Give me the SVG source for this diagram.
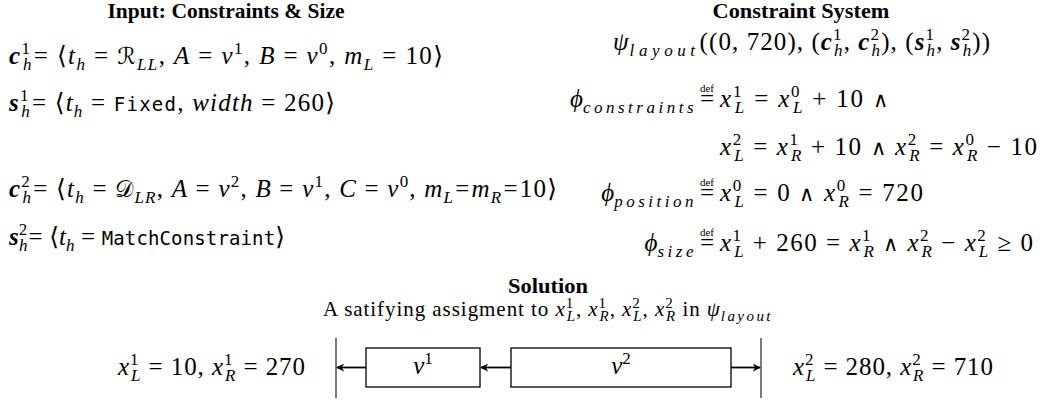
<svg xmlns="http://www.w3.org/2000/svg" width="1052" height="401" viewBox="0 0 1052 401">
<style>
text{font-family:"Liberation Serif","DejaVu Serif",serif;fill:#000}
.m{font-size:25px}
.i{font-style:italic}
.bi{font-style:italic;font-weight:bold}
.s{font-size:17px}
.sw{letter-spacing:3.5px}
.sw2{letter-spacing:1.5px}
.cal{font-family:"DejaVu Serif","DejaVu Sans",serif;font-size:23px}
.op{font-family:"DejaVu Sans",sans-serif;font-size:21px;font-weight:200}
.tt{font-family:"DejaVu Sans Mono","Liberation Mono",monospace;font-size:19px}
.h{font-weight:bold;font-size:21px;text-anchor:middle}
.d{font-size:11px;text-anchor:middle}
.eq{text-anchor:middle}
.n{font-size:21px}
.ns{font-size:15px}
.box{fill:#fff;stroke:#000;stroke-width:1.3}
.wall{stroke:#333;stroke-width:1.3}
.arr{stroke:#000;stroke-width:1.8;fill:none;marker-end:url(#ah)}
</style>
<defs>
<marker id="ah" viewBox="0 0 10 10" refX="9" refY="5" markerWidth="8" markerHeight="8" markerUnits="userSpaceOnUse" orient="auto">
<path d="M0,0 L10,5 L0,10 L3,5 Z" fill="#000"/>
</marker>
</defs>

<g id="headings">
<text class="h" x="226" y="18" textLength="237" lengthAdjust="spacingAndGlyphs">Input: Constraints &amp; Size</text>
<text class="h" x="801" y="18" textLength="177" lengthAdjust="spacingAndGlyphs">Constraint System</text>
<text class="h" x="548" y="293" textLength="80" lengthAdjust="spacingAndGlyphs">Solution</text>
</g>

<g id="input">
<text class="m" x="9" y="64" textLength="434" lengthAdjust="spacing"><tspan class="bi">c</tspan><tspan class="s" dy="-10">1</tspan><tspan class="s i" dx="-8.5" dy="16">h</tspan><tspan dy="-6" dx="1">= ⟨</tspan><tspan class="i">t</tspan><tspan class="s i" dy="6">h</tspan><tspan dy="-6"> = </tspan><tspan class="cal">ℛ</tspan><tspan class="s i" dy="6">LL</tspan><tspan dy="-6">, </tspan><tspan class="i">A</tspan> = <tspan class="i">v</tspan><tspan class="s" dy="-10">1</tspan><tspan dy="10">, </tspan><tspan class="i">B</tspan> = <tspan class="i">v</tspan><tspan class="s" dy="-10">0</tspan><tspan dy="10">, </tspan><tspan class="i">m</tspan><tspan class="s i" dy="6">L</tspan><tspan dy="-6"> = 10⟩</tspan></text>
<text class="m" x="9" y="111" textLength="326" lengthAdjust="spacing"><tspan class="bi">s</tspan><tspan class="s" dy="-10">1</tspan><tspan class="s i" dx="-8.5" dy="16">h</tspan><tspan dy="-6" dx="1">= ⟨</tspan><tspan class="i">t</tspan><tspan class="s i" dy="6">h</tspan><tspan dy="-6"> = </tspan><tspan class="tt">Fixed</tspan>, <tspan class="i">width</tspan> = 260⟩</text>
<text class="m" x="9" y="197" textLength="548" lengthAdjust="spacing"><tspan class="bi">c</tspan><tspan class="s" dy="-10">2</tspan><tspan class="s i" dx="-8.5" dy="16">h</tspan><tspan dy="-6" dx="1">= ⟨</tspan><tspan class="i">t</tspan><tspan class="s i" dy="6">h</tspan><tspan dy="-6"> = </tspan><tspan class="cal">𝒟</tspan><tspan class="s i" dy="6">LR</tspan><tspan dy="-6">, </tspan><tspan class="i">A</tspan> = <tspan class="i">v</tspan><tspan class="s" dy="-10">2</tspan><tspan dy="10">, </tspan><tspan class="i">B</tspan> = <tspan class="i">v</tspan><tspan class="s" dy="-10">1</tspan><tspan dy="10">, </tspan><tspan class="i">C</tspan> = <tspan class="i">v</tspan><tspan class="s" dy="-10">0</tspan><tspan dy="10">, </tspan><tspan class="i">m</tspan><tspan class="s i" dy="6">L</tspan><tspan dy="-6" dx="1">=</tspan><tspan class="i" dx="1">m</tspan><tspan class="s i" dy="6">R</tspan><tspan dy="-6" dx="1">=</tspan><tspan dx="1">10⟩</tspan></text>
<text class="m" x="9" y="245" textLength="276" lengthAdjust="spacing"><tspan class="bi">s</tspan><tspan class="s" dy="-10">2</tspan><tspan class="s i" dx="-8.5" dy="16">h</tspan><tspan dy="-6" dx="1">= ⟨</tspan><tspan class="i">t</tspan><tspan class="s i" dy="6">h</tspan><tspan dy="-6"> = </tspan><tspan class="tt">MatchConstraint</tspan>⟩</text>
</g>

<g id="system">
<text class="m" x="613" y="50" textLength="377" lengthAdjust="spacing"><tspan class="i">ψ</tspan><tspan class="s i sw" dy="6">layout</tspan><tspan dy="-6">((0, 720), (</tspan><tspan class="bi">c</tspan><tspan class="s" dy="-10">1</tspan><tspan class="s i" dx="-8.5" dy="16">h</tspan><tspan dy="-6">, </tspan><tspan class="bi">c</tspan><tspan class="s" dy="-10">2</tspan><tspan class="s i" dx="-8.5" dy="16">h</tspan><tspan dy="-6">), (</tspan><tspan class="bi">s</tspan><tspan class="s" dy="-10">1</tspan><tspan class="s i" dx="-8.5" dy="16">h</tspan><tspan dy="-6">, </tspan><tspan class="bi">s</tspan><tspan class="s" dy="-10">2</tspan><tspan class="s i" dx="-8.5" dy="16">h</tspan><tspan dy="-6">))</tspan></text>

<text class="m" x="697" y="107" text-anchor="end"><tspan class="i">ϕ</tspan><tspan class="s i sw" dy="6">constraints</tspan></text>
<text class="d" x="707" y="92">def</text>
<text class="m eq" x="707" y="107">=</text>
<text class="m" x="720" y="107" textLength="168" lengthAdjust="spacing"><tspan class="i">x</tspan><tspan class="s" dy="-10">1</tspan><tspan class="s i" dx="-8.5" dy="16">L</tspan><tspan dy="-6"> = </tspan><tspan class="i">x</tspan><tspan class="s" dy="-10">0</tspan><tspan class="s i" dx="-8.5" dy="16">L</tspan><tspan dy="-6"> + 10 </tspan><tspan class="op">∧</tspan></text>

<text class="m" x="720" y="155" textLength="317" lengthAdjust="spacing"><tspan class="i">x</tspan><tspan class="s" dy="-10">2</tspan><tspan class="s i" dx="-8.5" dy="16">L</tspan><tspan dy="-6"> = </tspan><tspan class="i">x</tspan><tspan class="s" dy="-10">1</tspan><tspan class="s i" dx="-8.5" dy="16">R</tspan><tspan dy="-6"> + 10 </tspan><tspan class="op">∧</tspan> <tspan class="i">x</tspan><tspan class="s" dy="-10">2</tspan><tspan class="s i" dx="-8.5" dy="16">R</tspan><tspan dy="-6"> = </tspan><tspan class="i">x</tspan><tspan class="s" dy="-10">0</tspan><tspan class="s i" dx="-8.5" dy="16">R</tspan><tspan dy="-6"> − 10</tspan></text>

<text class="m" x="697" y="201" text-anchor="end"><tspan class="i">ϕ</tspan><tspan class="s i sw" dy="6">position</tspan></text>
<text class="d" x="707" y="186">def</text>
<text class="m eq" x="707" y="201">=</text>
<text class="m" x="720" y="201" textLength="203" lengthAdjust="spacing"><tspan class="i">x</tspan><tspan class="s" dy="-10">0</tspan><tspan class="s i" dx="-8.5" dy="16">L</tspan><tspan dy="-6"> = 0 </tspan><tspan class="op">∧</tspan> <tspan class="i">x</tspan><tspan class="s" dy="-10">0</tspan><tspan class="s i" dx="-8.5" dy="16">R</tspan><tspan dy="-6"> = 720</tspan></text>

<text class="m" x="697" y="251" text-anchor="end"><tspan class="i">ϕ</tspan><tspan class="s i sw" dy="6">size</tspan></text>
<text class="d" x="707" y="236">def</text>
<text class="m eq" x="707" y="251">=</text>
<text class="m" x="720" y="251" textLength="313" lengthAdjust="spacing"><tspan class="i">x</tspan><tspan class="s" dy="-10">1</tspan><tspan class="s i" dx="-8.5" dy="16">L</tspan><tspan dy="-6"> + 260 = </tspan><tspan class="i">x</tspan><tspan class="s" dy="-10">1</tspan><tspan class="s i" dx="-8.5" dy="16">R</tspan><tspan dy="-6"> </tspan><tspan class="op">∧</tspan> <tspan class="i">x</tspan><tspan class="s" dy="-10">2</tspan><tspan class="s i" dx="-8.5" dy="16">R</tspan><tspan dy="-6"> − </tspan><tspan class="i">x</tspan><tspan class="s" dy="-10">2</tspan><tspan class="s i" dx="-8.5" dy="16">L</tspan><tspan dy="-6"> ≥ 0</tspan></text>
</g>

<g id="solution">
<text class="n" x="323" y="316" textLength="449" lengthAdjust="spacing">A satifying assigment to <tspan class="i">x</tspan><tspan class="ns" dy="-8">1</tspan><tspan class="ns i" dx="-7.5" dy="13">L</tspan><tspan dy="-5">, </tspan><tspan class="i">x</tspan><tspan class="ns" dy="-8">1</tspan><tspan class="ns i" dx="-7.5" dy="13">R</tspan><tspan dy="-5">, </tspan><tspan class="i">x</tspan><tspan class="ns" dy="-8">2</tspan><tspan class="ns i" dx="-7.5" dy="13">L</tspan><tspan dy="-5">, </tspan><tspan class="i">x</tspan><tspan class="ns" dy="-8">2</tspan><tspan class="ns i" dx="-7.5" dy="13">R</tspan><tspan dy="-5"> in </tspan><tspan class="i">ψ</tspan><tspan class="ns i sw2" dy="5">layout</tspan></text>
<text class="m" x="118" y="375" textLength="187" lengthAdjust="spacing"><tspan class="i">x</tspan><tspan class="s" dy="-10">1</tspan><tspan class="s i" dx="-8.5" dy="16">L</tspan><tspan dy="-6"> = 10, </tspan><tspan class="i">x</tspan><tspan class="s" dy="-10">1</tspan><tspan class="s i" dx="-8.5" dy="16">R</tspan><tspan dy="-6"> = 270</tspan></text>
<text class="m" x="793" y="375" textLength="200" lengthAdjust="spacing"><tspan class="i">x</tspan><tspan class="s" dy="-10">2</tspan><tspan class="s i" dx="-8.5" dy="16">L</tspan><tspan dy="-6"> = 280, </tspan><tspan class="i">x</tspan><tspan class="s" dy="-10">2</tspan><tspan class="s i" dx="-8.5" dy="16">R</tspan><tspan dy="-6"> = 710</tspan></text>
</g>

<g id="walls">
<line class="wall" x1="336" y1="338" x2="336" y2="398"/>
<line class="wall" x1="761" y1="338" x2="761" y2="398"/>
</g>

<g id="v1">
<rect class="box" x="366" y="348" width="114" height="39"/>
<text class="m" x="423" y="374" text-anchor="middle"><tspan class="i">v</tspan><tspan class="s" dy="-10">1</tspan></text>
</g>
<g id="v2">
<rect class="box" x="511" y="348" width="220" height="39"/>
<text class="m" x="621" y="374" text-anchor="middle"><tspan class="i">v</tspan><tspan class="s" dy="-10">2</tspan></text>
</g>

<g id="connectors">
<line class="arr" x1="366" y1="367.5" x2="337" y2="367.5"/>
<line class="arr" x1="511" y1="367.5" x2="481" y2="367.5"/>
<line class="arr" x1="731" y1="367.5" x2="760" y2="367.5"/>
</g>
</svg>
